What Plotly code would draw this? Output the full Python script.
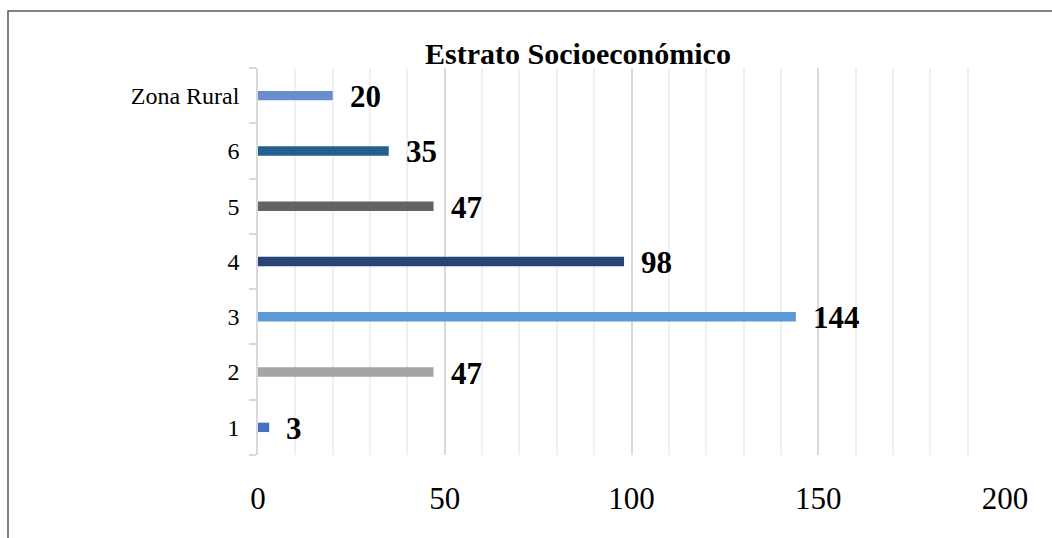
import plotly.graph_objects as go

categories = ["1", "2", "3", "4", "5", "6", "Zona Rural"]
values = [3, 47, 144, 98, 47, 35, 20]
colors = ["#4472C4", "#A5A5A5", "#5B9BD5", "#264478", "#636363", "#255E91", "#698ED0"]
x_ticks = [0, 50, 100, 150, 200]
title = "Estrato Socioeconómico"

FONT = "Liberation Serif, Times New Roman, serif"

fig = go.Figure()
fig.add_trace(go.Bar(
    x=values, y=categories, orientation="h",
    marker=dict(color=colors, line=dict(width=0)),
    width=0.17,
    hoverinfo="skip",
))

# annotations on a categorical axis: numeric y = category index
for i, v in enumerate(values):
    fig.add_annotation(x=v, y=i, xref="x", yref="y", text=f"<b>{v}</b>",
                       showarrow=False, xanchor="left", xshift=15, yshift=-1,
                       font=dict(family=FONT, size=31, color="#000000"))

L, R, T, B = 258, 47, 68, 83
W, H = 1052, 538
pw, ph = W - L - R, H - T - B

fig.add_shape(type="rect", xref="paper", yref="paper",
              x0=(8 - L) / pw, x1=(1070 - L) / pw,
              y0=(H - B - 560) / ph, y1=1 + (T - 11) / ph,
              line=dict(color="#595959", width=1.5), fillcolor="rgba(0,0,0,0)",
              layer="above")

fig.update_layout(
    width=W, height=H,
    margin=dict(l=L, r=R, t=T, b=B, pad=0),
    paper_bgcolor="white", plot_bgcolor="white",
    showlegend=False,
    title=dict(text=f"<b>{title}</b>", x=578 / W, xanchor="center", xref="container",
               y=1 - 53 / H, yanchor="middle", yref="container",
               font=dict(family=FONT, size=30, color="#000000")),
    font=dict(family=FONT, color="#000000"),
)

fig.update_xaxes(
    range=[0, 200], tickvals=x_ticks, ticktext=[str(t) for t in x_ticks],
    showgrid=True, gridcolor="#D9D9D9", gridwidth=1.5,
    minor=dict(dtick=10, tick0=0, showgrid=True, gridcolor="#F0F0F0", gridwidth=1.5),
    zeroline=False, showline=False, ticks="",
    tickfont=dict(family=FONT, size=31, color="#000000"),
    ticklabelstandoff=22,
)
fig.update_yaxes(
    type="category", categoryorder="array", categoryarray=categories,
    showgrid=False, zeroline=False,
    showline=True, linecolor="#D9D9D9", linewidth=1.5,
    ticks="outside", tickson="boundaries", ticklen=7, tickcolor="#D9D9D9", tickwidth=1.5,
    tickfont=dict(family=FONT, size=24, color="#000000"),
    ticklabelstandoff=12,
)

fig.write_html("out.html")
